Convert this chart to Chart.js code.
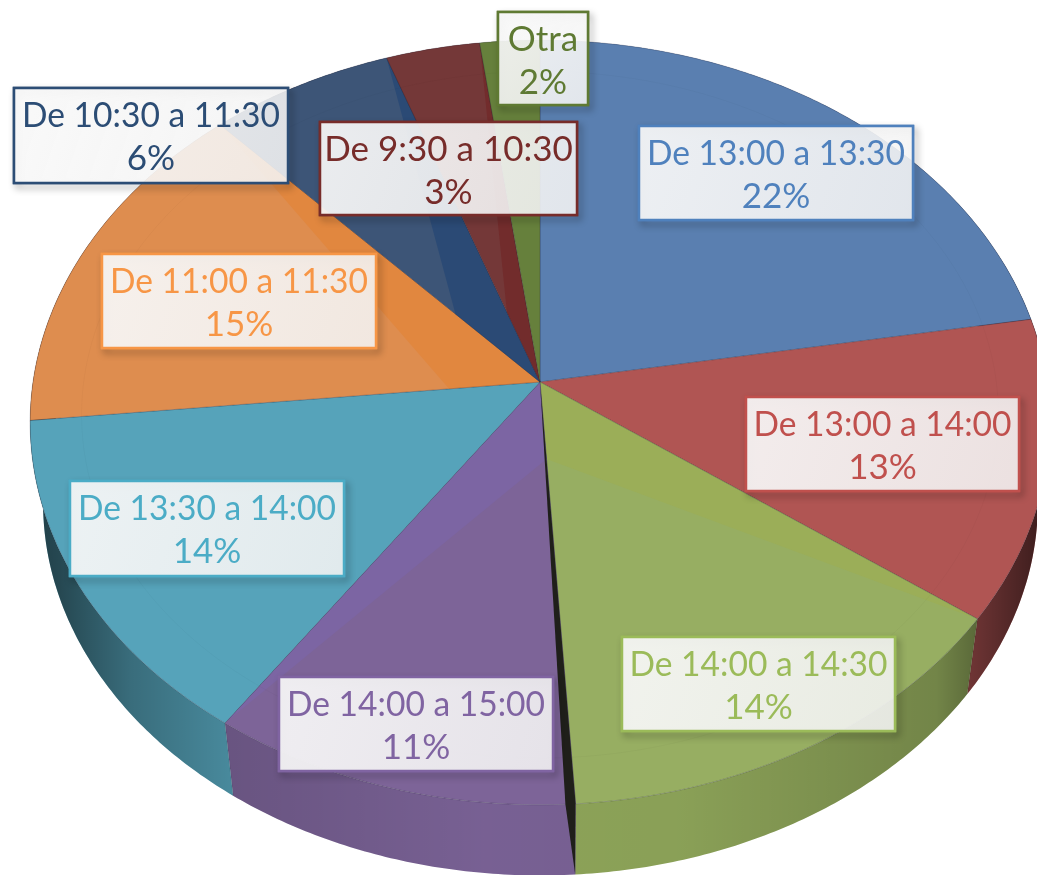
<!DOCTYPE html>
<html><head><meta charset="utf-8">
<style>html,body{margin:0;padding:0;background:#fff}canvas{display:block}</style>
<script src="https://cdn.jsdelivr.net/npm/chart.js@4"></script>
</head><body><canvas id="c" width="1037" height="875"></canvas>
<script>
const categories = ["De 13:00 a 13:30","De 13:00 a 14:00","De 14:00 a 14:30","De 14:00 a 15:00","De 13:30 a 14:00","De 11:00 a 11:30","De 10:30 a 11:30","De 9:30 a 10:30","Otra"];
const percentLabels = ["22%","13%","14%","11%","14%","15%","6%","3%","2%"];
// slice shares
const sliceValues = [22.3,12.7,14,10.6,13.8,14.7,6.5,3.3,2.1];

const faceColors = ["#5a7fb0","#b05553","#97ae62","#7d6498","#56a3ba","#de8d4f","#3d5577","#743838","#66803c"];
const sideColors = ["#5a7fb0","#a85050","#8fa65a","#7a6296","#54a0b6","#de8d4f","#3d5577","#743838","#66803c"];
const textColors = ["#4f81bd","#c0504d","#9bbb59","#8064a2","#4bacc6","#f79646","#2c4d75","#772c2a","#5f7a33"];
// lighter / darker facet beside each slice: [radius on the other edge, colour, rim end used]
const facets = [null,null,[0.2,"#9bae58","start"],[0.2,"#7c65a3","end"],null,[0.18,"#e1873f","end"],[0.25,"#2b4a75","end"],[0.2,"#722c2c","end"],null];
// label boxes: left, top, right, bottom
const boxes = [[639,126,913,220],[746,397,1019,491],[622,637,895,731],[279,677,553,771],[70,481,344,576],[102,254,376,348],[14,88,288,183],[320,122,577,215],[498,12,588,105]];

// perspective of the tilted disc
const persp = {cx:540, cy:382, a:507, b:378, k:-0.1059, vx:560, vy:3700, f:0.9756};

function warp(u,v){const w=1+persp.k*v;return [persp.cx+persp.a*u/w, persp.cy+persp.b*v/w];}
function rim(t,r=1){return warp(r*Math.cos(t),r*Math.sin(t));}
function low(p){return [persp.vx+persp.f*(p[0]-persp.vx), persp.vy+persp.f*(p[1]-persp.vy)];}
function arcPts(a,b,r=1){const n=Math.max(2,Math.ceil(Math.abs(b-a)/0.01));const o=[];for(let i=0;i<=n;i++)o.push(rim(a+(b-a)*i/n,r));return o;}
function poly(ctx,pts){ctx.beginPath();pts.forEach((p,i)=>i?ctx.lineTo(p[0],p[1]):ctx.moveTo(p[0],p[1]));ctx.closePath();}

const disc3d = {
  id:'disc3d',
  beforeDatasetDraw(chart,args){
    const ctx=chart.ctx, arcs=args.meta.data;
    const C=[persp.cx,persp.cy];
    const shade=ctx.createLinearGradient(30,0,1037,0);
    [[0,.62],[.03,.55],[.1,.32],[.2,.14],[.45,.02],[.65,.04],[.9,.2],[.96,.45],[1,.62]].forEach(s=>shade.addColorStop(s[0],`rgba(0,0,0,${s[1]})`));
    // sides
    arcs.forEach((el,i)=>{
      const top=arcPts(el.startAngle,el.endAngle);
      const pts=top.concat(top.slice().reverse().map(low));
      ctx.fillStyle=sideColors[i];poly(ctx,pts);ctx.fill();
      ctx.fillStyle=shade;ctx.fill();
    });
    arcs.forEach((el,i)=>{
      const p=rim(el.startAngle);const q=low(p);
      ctx.strokeStyle='rgba(0,0,0,.12)';ctx.lineWidth=1;ctx.beginPath();ctx.moveTo(p[0],p[1]);ctx.lineTo(q[0],q[1]);ctx.stroke();
    });
    // top faces
    arcs.forEach((el,i)=>{
      const pts=[C].concat(arcPts(el.startAngle,el.endAngle));
      ctx.fillStyle=faceColors[i];poly(ctx,pts);ctx.fill();
      const fc=facets[i];
      if(fc){
        const tri=fc[2]==='end'?[C,rim(el.endAngle),rim(el.startAngle,fc[0])]:[C,rim(el.startAngle),rim(el.endAngle,fc[0])];
        ctx.fillStyle=fc[1];poly(ctx,tri);ctx.fill();
      }
      ctx.strokeStyle='rgba(0,0,0,.025)';ctx.lineWidth=1;
      const ring=arcPts(el.startAngle,el.endAngle,0.9);
      ctx.beginPath();ring.forEach((p,j)=>j?ctx.lineTo(p[0],p[1]):ctx.moveTo(p[0],p[1]));ctx.stroke();
      ctx.strokeStyle='rgba(30,30,50,.25)';ctx.lineWidth=1;poly(ctx,pts);ctx.stroke();
    });
    // dark gap between two slices
    const a0=arcs[3].startAngle, d=0.018;
    const p0=rim(a0), p1=rim(a0+d);
    ctx.fillStyle='#1f1f1a';
    poly(ctx,[C,p0,low(p0),p1]);ctx.fill();
    return false;
  },
  afterDraw(chart){
    const ctx=chart.ctx;
    ctx.save();
    boxes.forEach((b,i)=>{
      const x=b[0],y=b[1],w=b[2]-b[0],h=b[3]-b[1];
      ctx.save();
      ctx.shadowColor='rgba(0,0,0,.42)';ctx.shadowBlur=7;ctx.shadowOffsetX=3;ctx.shadowOffsetY=4;
      ctx.strokeStyle=textColors[i];ctx.lineWidth=2.5;ctx.strokeRect(x,y,w,h);
      ctx.restore();
      const g=ctx.createLinearGradient(x,y,x+w,y+h);
      g.addColorStop(0,'rgba(248,248,248,.93)');g.addColorStop(1,'rgba(244,244,244,.88)');
      ctx.fillStyle=g;ctx.fillRect(x+1,y+1,w-2,h-2);
      ctx.strokeStyle=textColors[i];ctx.lineWidth=2.5;ctx.strokeRect(x,y,w,h);
      ctx.fillStyle=textColors[i];ctx.textAlign='center';ctx.textBaseline='alphabetic';
      ctx.font='35px Lato';
      const mx=(b[0]+b[2])/2;
      ctx.fillText(categories[i],mx,y+39,258);
      ctx.fillText(percentLabels[i],mx,y+82);
    });
    ctx.restore();
  }
};

new Chart(document.getElementById('c'),{
  type:'pie',
  data:{labels:categories,datasets:[{data:sliceValues,backgroundColor:faceColors,borderWidth:0}]},
  options:{responsive:false,animation:false,rotation:0,
    plugins:{legend:{display:false},tooltip:{enabled:false},title:{display:false}}},
  plugins:[disc3d]
});
</script></body></html>
